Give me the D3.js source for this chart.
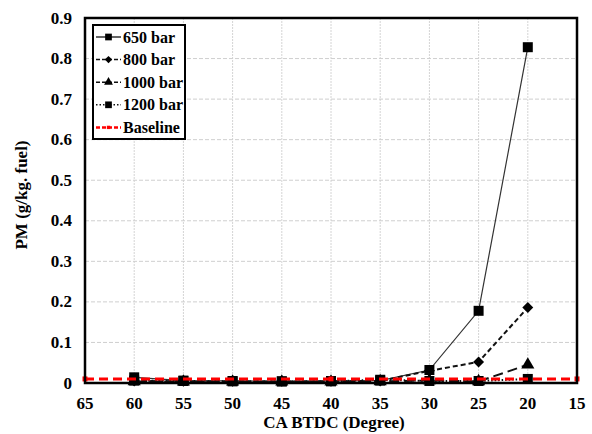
<!DOCTYPE html>
<html>
<head>
<script src="https://d3js.org/d3.v7.min.js"></script>
<style>
  body { margin: 0; background: #fff; }
  text { font-family: "Liberation Serif", "Times New Roman", serif; font-weight: bold; fill: #000; }
</style>
</head>
<body>
<div id="chart"></div>
<script>
// data
var angles = [60, 55, 50, 45, 40, 35, 30, 25, 20];
var pm650  = [0.014, 0.006, 0.005, 0.004, 0.005, 0.006, 0.032, 0.178, 0.828];
var pm800  = [0.005, 0.004, 0.004, 0.004, 0.004, 0.005, 0.030, 0.052, 0.186];
var pm1000 = [0.004, 0.003, 0.003, 0.003, 0.003, 0.004, 0.006, 0.004, 0.045];
var pm1200 = [0.006, 0.005, 0.004, 0.004, 0.004, 0.008, 0.005, 0.005, 0.010];
var baseAngles = [65, 40, 15];
var baseValues = [0.010, 0.010, 0.010];
var xTicks = [65, 60, 55, 50, 45, 40, 35, 30, 25, 20, 15];
var yTicks = [0, 0.1, 0.2, 0.3, 0.4, 0.5, 0.6, 0.7, 0.8, 0.9];
var seriesNames = ["650 bar", "800 bar", "1000 bar", "1200 bar", "Baseline"];

var width = 592, height = 434;
var margin = {top: 18, right: 15, bottom: 51, left: 85};

var svg = d3.select("#chart").append("svg")
    .attr("width", width)
    .attr("height", height);

var x = d3.scaleLinear().domain([65, 15]).range([margin.left, width - margin.right]);
var y = d3.scaleLinear().domain([0, 0.9]).range([height - margin.bottom, margin.top]);

// grid
svg.append("g").selectAll("line")
    .data(xTicks.slice(1, -1))
    .enter().append("line")
    .attr("x1", function(d) { return x(d); })
    .attr("x2", function(d) { return x(d); })
    .attr("y1", y(0))
    .attr("y2", y(0.9))
    .style("stroke", "#d4d4d4")
    .style("stroke-width", 1)
    .style("stroke-dasharray", "2,1");

svg.append("g").selectAll("line")
    .data(yTicks.slice(1, -1))
    .enter().append("line")
    .attr("x1", x(65))
    .attr("x2", x(15))
    .attr("y1", function(d) { return y(d); })
    .attr("y2", function(d) { return y(d); })
    .style("stroke", "#cfcfcf")
    .style("stroke-width", 1)
    .style("stroke-dasharray", "4,2");

// tick labels
svg.append("g").selectAll("text")
    .data(xTicks)
    .enter().append("text")
    .attr("x", function(d) { return x(d); })
    .attr("y", 409)
    .attr("text-anchor", "middle")
    .style("font-size", "17px")
    .text(function(d) { return d; });

svg.append("g").selectAll("text")
    .data(yTicks)
    .enter().append("text")
    .attr("x", 72)
    .attr("y", function(d) { return y(d) + 5.5; })
    .attr("text-anchor", "end")
    .style("font-size", "17px")
    .text(function(d) { return d === 0 ? "0" : d3.format(".1f")(d); });

// axis titles
svg.append("text")
    .attr("x", 334)
    .attr("y", 428)
    .attr("text-anchor", "middle")
    .style("font-size", "17px")
    .text("CA BTDC (Degree)");

svg.append("text")
    .attr("transform", "translate(27,195) rotate(-90)")
    .attr("text-anchor", "middle")
    .style("font-size", "17px")
    .text("PM (g/kg. fuel)");

// series
var line = d3.line()
    .x(function(d) { return x(d[0]); })
    .y(function(d) { return y(d[1]); });

var series = [
  {name: seriesNames[0], xs: angles, ys: pm650,  color: "#333", width: 1.2, dash: null,  sym: d3.symbolSquare,   size: 100, rot: 0},
  {name: seriesNames[1], xs: angles, ys: pm800,  color: "#111", width: 2,   dash: "5,3", sym: d3.symbolSquare,   size: 60,  rot: 45},
  {name: seriesNames[2], xs: angles, ys: pm1000, color: "#111", width: 2,   dash: "10,5", sym: d3.symbolTriangle, size: 75,  rot: 0},
  {name: seriesNames[3], xs: angles, ys: pm1200, color: "#111", width: 2,   dash: "1.5,2", sym: d3.symbolSquare,  size: 100, rot: 0},
  {name: seriesNames[4], xs: baseAngles, ys: baseValues, color: "#ff0000", width: 3, dash: "9,5", sym: d3.symbolSquare, size: 25, rot: 0}
];

series.forEach(function(s) {
  var pts = s.xs.map(function(v, i) { return [v, s.ys[i]]; });
  svg.append("path")
      .datum(pts)
      .attr("d", line)
      .style("fill", "none")
      .style("stroke", s.color)
      .style("stroke-width", s.width)
      .style("stroke-dasharray", s.dash);
  svg.append("g").selectAll("path")
      .data(pts)
      .enter().append("path")
      .attr("d", d3.symbol().type(s.sym).size(s.size))
      .attr("transform", function(d) {
        return "translate(" + x(d[0]) + "," + y(d[1]) + ") rotate(" + s.rot + ")";
      })
      .style("fill", s.name === "Baseline" ? "#ff0000" : "#000");
});

// frame
svg.append("rect")
    .attr("x", x(65))
    .attr("y", y(0.9))
    .attr("width", x(15) - x(65))
    .attr("height", y(0) - y(0.9))
    .style("fill", "none")
    .style("stroke", "#000")
    .style("stroke-width", 2.5);

// legend
var legend = svg.append("g");
legend.append("rect")
    .attr("x", 93)
    .attr("y", 25)
    .attr("width", 92)
    .attr("height", 114)
    .style("fill", "#fff")
    .style("stroke", "#000")
    .style("stroke-width", 2);

series.forEach(function(s, i) {
  var ly = 37 + i * 22.6;
  legend.append("line")
      .attr("x1", 96)
      .attr("x2", 121)
      .attr("y1", ly)
      .attr("y2", ly)
      .style("stroke", s.color)
      .style("stroke-width", s.name === "Baseline" ? 2.5 : 1.5)
      .style("stroke-dasharray", s.name === "650 bar" ? null : (s.name === "1200 bar" ? "1.5,2" : "4,2"));
  legend.append("path")
      .attr("d", d3.symbol().type(s.sym).size(s.size * 0.45))
      .attr("transform", "translate(108.5," + ly + ") rotate(" + s.rot + ")")
      .style("fill", s.name === "Baseline" ? "#ff0000" : "#000");
  legend.append("text")
      .attr("x", 123)
      .attr("y", ly + 5.5)
      .style("font-size", "16px")
      .text(s.name);
});
</script>
</body>
</html>
